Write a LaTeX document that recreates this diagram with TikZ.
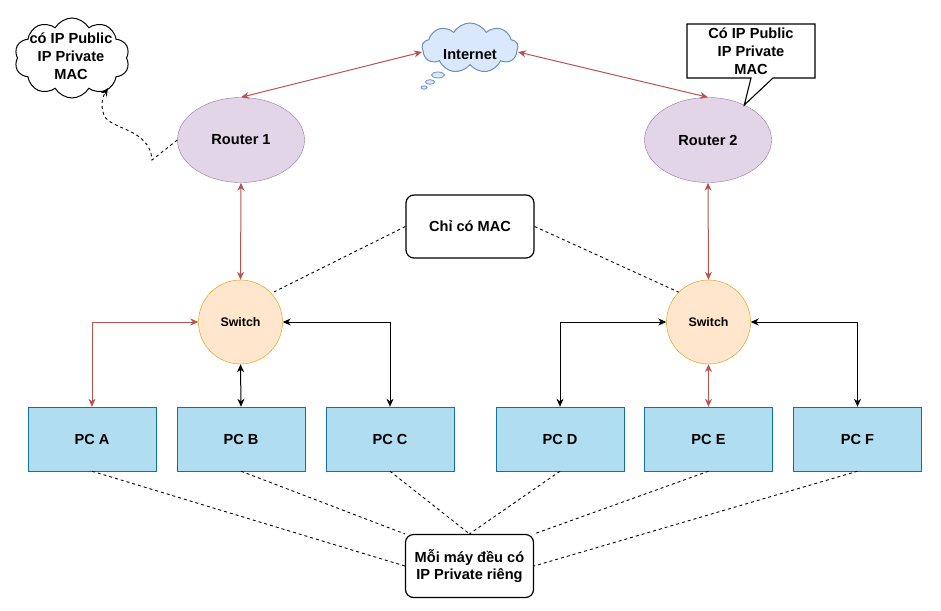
\documentclass[tikz,border=0pt]{standalone}
\usepackage{fontspec}
\setmainfont{Liberation Sans}
\usetikzlibrary{shapes.geometric,shapes.symbols,arrows.meta,calc}
\definecolor{redl}{HTML}{B85450}
\definecolor{routerS}{HTML}{9673A6}
\definecolor{routerF}{HTML}{E1D5E7}
\definecolor{swS}{HTML}{D79B00}
\definecolor{swF}{HTML}{FFE6CC}
\definecolor{pcS}{HTML}{10739E}
\definecolor{pcF}{HTML}{B1DDF0}
\definecolor{inetS}{HTML}{6C8EBF}
\definecolor{inetF}{HTML}{DAE8FC}
\begin{document}
\begin{tikzpicture}[x=1pt,y=-1pt,
  txt/.style={font=\fontsize{14.6}{17.8}\selectfont\bfseries, align=center},
  router/.style={ellipse, draw=routerS, fill=routerF, minimum width=127pt, minimum height=85pt, inner sep=0pt, txt},
  switchn/.style={circle, draw=swS, fill=swF, minimum size=84pt, inner sep=0pt, font=\fontsize{12.4}{14}\selectfont\bfseries},
  pcbox/.style={rectangle, draw=pcS, fill=pcF, minimum width=128pt, minimum height=64pt, inner sep=0pt, txt},
  notebox/.style={rectangle, rounded corners=8pt, draw=black, line width=1.2pt, fill=white, minimum width=128pt, minimum height=63pt, inner sep=0pt, txt},
  redarrow/.style={draw=redl, line width=1pt, {Stealth[length=8pt,width=7pt,inset=2.5pt]}-{Stealth[length=8pt,width=7pt,inset=2.5pt]}},
  blackarrow/.style={draw=black, line width=1pt, {Stealth[length=8pt,width=7pt,inset=2.5pt]}-{Stealth[length=8pt,width=7pt,inset=2.5pt]}},
  dashline/.style={draw=black, line width=0.9pt, dash pattern=on 3pt off 3pt}
]
\useasboundingbox (0,0) rectangle (941,610);

% clouds
\node[cloud, cloud puffs=10, cloud puff arc=120, cloud ignores aspect, draw=black, line width=1pt, fill=white, minimum width=115pt, minimum height=80pt, inner sep=0pt] (ctl) at (72,58) {};
\node[txt] (ctltext) at (71,56) {có IP Public\\IP Private\\MAC};

\node[cloud, cloud puffs=9, cloud puff arc=120, cloud ignores aspect, draw=inetS, line width=1pt, fill=inetF, minimum width=96pt, minimum height=50pt, inner sep=0pt] (inet) at (470,48) {};
\node[txt] (inettext) at (470,55) {Internet};
\draw[draw=inetS, fill=inetF, line width=0.8pt] (438,75) ellipse [x radius=6.5, y radius=3];
\draw[draw=inetS, fill=inetF, line width=0.8pt] (430,82) ellipse [x radius=4.5, y radius=2.3];
\draw[draw=inetS, fill=inetF, line width=0.8pt] (424,87.5) ellipse [x radius=3, y radius=1.7];

% routers
\node[router] (r1) at (241,140) {Router 1};
\node[router] (r2) at (708,140) {Router 2};

% callout
\draw[line width=1.1pt, fill=white] (687,24) -- (815,24) -- (815,78) -- (773,78) -- (r2.44) -- (751,78) -- (687,78) -- cycle;
\node[txt] (calltext) at (751,51) {Có IP Public\\IP Private\\MAC};

% switches
\node[switchn] (sw1) at (240.5,322) {Switch};
\node[switchn] (sw2) at (708.5,322) {Switch};

% notes
\node[notebox] (mac) at (470,226.5) {Chỉ có MAC};
\node[notebox] (priv) at (469.5,566) {Mỗi máy đều có\\IP Private riêng};

% PCs
\node[pcbox] (pca) at (92,439) {PC A};
\node[pcbox] (pcb) at (241,439) {PC B};
\node[pcbox] (pcc) at (390,439) {PC C};
\node[pcbox] (pcd) at (560,439) {PC D};
\node[pcbox] (pce) at (708.5,439) {PC E};
\node[pcbox] (pcf) at (857.5,439) {PC F};

% connectors
\coordinate (inetL) at (422,52);
\coordinate (inetR) at (518,52);
\draw[redarrow] (inetL) -- (r1.north);
\draw[redarrow] (inetR) -- (r2.north);
\draw[redarrow] (r1.south) -- (sw1.north);
\draw[redarrow] (r2.south) -- (sw2.north);

\draw[redarrow] (sw1.west) -| (pca.north);
\draw[blackarrow] (sw1.south) -- (pcb.north);
\draw[blackarrow] (sw1.east) -| (pcc.north);
\draw[blackarrow] (sw2.west) -| (pcd.north);
\draw[redarrow] (sw2.south) -- (pce.north);
\draw[blackarrow] (sw2.east) -| (pcf.north);

% dashed
\draw[dashline] (mac.west) -- (sw1.43);
\draw[dashline] (mac.east) -- (sw2.135);
\draw[dashline] (pca.south) -- (priv.west);
\draw[dashline] (pcb.south) -- (priv.north west);
\draw[dashline] (pcc.south) -- (priv.north);
\draw[dashline] (pcd.south) -- (priv.north);
\draw[dashline] (pce.south) -- (priv.north east);
\draw[dashline] (pcf.south) -- (priv.east);

\coordinate (cloudtip) at (108,88);
\coordinate (bend) at (152,160);
\draw[dashline, -{Stealth[length=8pt,width=7pt,inset=2.5pt]}] (r1.west) -- (bend) .. controls (150,128) and (110,130) .. (104,115) .. controls (100,105) and (103,96) .. (cloudtip);
\end{tikzpicture}
\end{document}
